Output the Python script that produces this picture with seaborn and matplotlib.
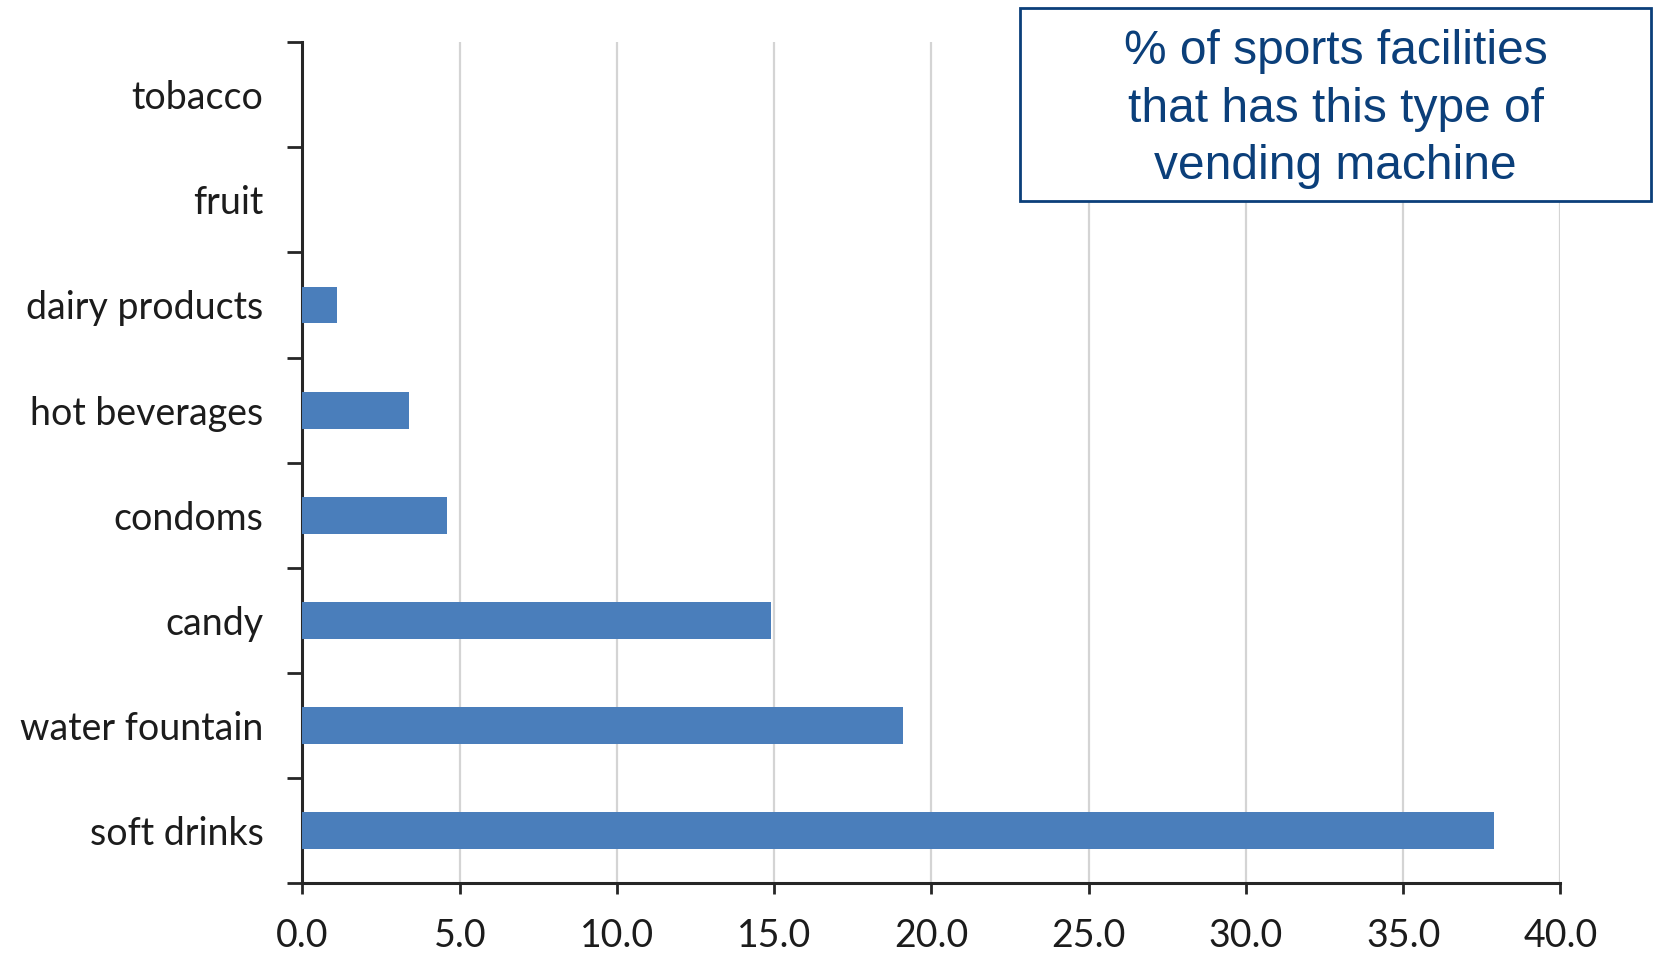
import matplotlib
matplotlib.use("Agg")
import matplotlib.pyplot as plt
import numpy as np
import pandas as pd
import seaborn as sns
from matplotlib.patches import Rectangle

CATEGORIES = [
    "tobacco",
    "fruit",
    "dairy products",
    "hot beverages",
    "condoms",
    "candy",
    "water fountain",
    "soft drinks",
]
SHARE = [0.0, 0.0, 1.1, 3.4, 4.6, 14.9, 19.1, 37.9]
X_TICKS = [0, 5, 10, 15, 20, 25, 30, 35, 40]
BOX_TEXT = "% of sports facilities\nthat has this type of\nvending machine"

BAR_COLOR = "#4a7ebb"
NAVY = "#0b3f7a"
AXIS_COLOR = "#262626"
LABEL_COLOR = "#1c1c1c"


def main() -> None:
    sns.set_theme(style="white")
    plt.rcParams["font.family"] = ["Lato", "DejaVu Sans"]

    df = pd.DataFrame({"category": CATEGORIES, "share": SHARE})

    fig = plt.figure(figsize=(16.53, 9.56), dpi=100)
    ax = fig.add_axes([0.183, 0.076, 0.761, 0.880])

    sns.barplot(
        data=df,
        x="share",
        y="category",
        order=CATEGORIES,
        orient="h",
        color=BAR_COLOR,
        saturation=1,
        width=0.35,
        linewidth=0,
        edgecolor="none",
        ax=ax,
        zorder=3,
    )

    ax.set_xlim(0, 40)
    ax.set_ylim(len(CATEGORIES) - 0.5, -0.5)
    ax.set_xticks(X_TICKS)
    ax.set_xticklabels([f"{t:.1f}" for t in X_TICKS])
    ax.set_xlabel("")
    ax.set_ylabel("")

    # vertical gridlines
    for t in X_TICKS[1:]:
        ax.axvline(t, color="#d4d4d4", linewidth=1.6, zorder=1)

    # category boundary ticks on the y axis
    ax.set_yticks(np.arange(len(CATEGORIES) + 1) - 0.5, minor=True)
    ax.tick_params(axis="y", which="minor", direction="out", length=11, width=2, color=AXIS_COLOR, left=True)
    ax.tick_params(axis="y", which="major", length=0, pad=28, labelsize=27, labelcolor=LABEL_COLOR)
    ax.tick_params(axis="x", which="major", direction="out", length=8, width=2, color=AXIS_COLOR,
                   bottom=True, pad=17, labelsize=27, labelcolor=LABEL_COLOR)
    for lbl in ax.get_yticklabels():
        lbl.set_va("center_baseline")

    for side in ["top", "right"]:
        ax.spines[side].set_visible(False)
    for side in ["left", "bottom"]:
        ax.spines[side].set_color(AXIS_COLOR)
        ax.spines[side].set_linewidth(2.2)

    # caption box in the top right corner
    box = Rectangle(
        (1020 / 1653, 1 - 201 / 956),
        (1651 - 1020) / 1653,
        (201 - 8) / 956,
        transform=fig.transFigure,
        facecolor="white",
        edgecolor=NAVY,
        linewidth=2,
        zorder=5,
    )
    fig.patches.append(box)
    fig.text(
        (1020 + 1651) / 2 / 1653,
        1 - 109 / 956,
        BOX_TEXT,
        ha="center",
        va="center",
        fontsize=34.5,
        color=NAVY,
        family=["Liberation Sans", "DejaVu Sans"],
        linespacing=1.36,
        zorder=6,
    )

    fig.savefig("out.png", dpi=100)
    plt.close(fig)


if __name__ == "__main__":
    main()
